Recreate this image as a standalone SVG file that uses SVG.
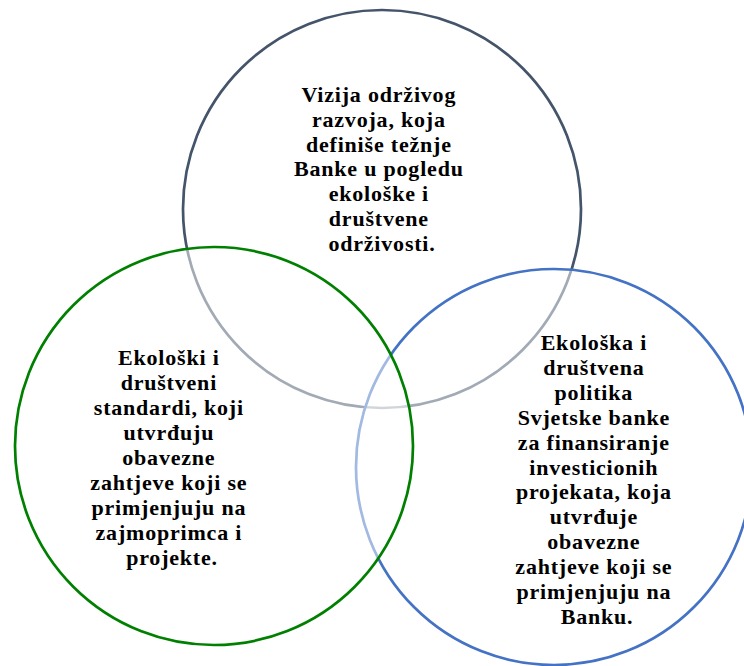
<svg xmlns="http://www.w3.org/2000/svg" width="744" height="666" viewBox="0 0 744 666">
<style>
.c{fill:#ffffff;fill-opacity:0.5;stroke-width:2.7}
.t{fill:#000;text-anchor:middle}
</style>
<rect width="744" height="666" fill="#ffffff"/>
<g id="vision">
<circle class="c" cx="382" cy="209" r="199" stroke="#44546A"/>
<text class="t" font-family="Liberation Serif, Times New Roman, serif" font-weight="bold" font-size="22" letter-spacing="0.8">
<tspan x="382" y="102">Vizija održivog</tspan>
<tspan x="382" y="126.8">razvoja, koja</tspan>
<tspan x="382" y="151.6">definiše težnje</tspan>
<tspan x="382" y="176.4">Banke u pogledu</tspan>
<tspan x="382" y="201.2">ekološke i</tspan>
<tspan x="382" y="226">društvene</tspan>
<tspan x="382" y="250.8">održivosti.</tspan>
</text>
</g>
<g id="policy">
<circle class="c" cx="554" cy="467" r="198" stroke="#4472C4"/>
<text class="t" font-family="Liberation Serif, Times New Roman, serif" font-weight="bold" font-size="22" letter-spacing="0.8">
<tspan x="597" y="350">Ekološka i</tspan>
<tspan x="597" y="374.9">društvena</tspan>
<tspan x="597" y="399.8">politika</tspan>
<tspan x="597" y="424.7">Svjetske banke</tspan>
<tspan x="597" y="449.6">za finansiranje</tspan>
<tspan x="597" y="474.5">investicionih</tspan>
<tspan x="597" y="499.4">projekata, koja</tspan>
<tspan x="597" y="524.3">utvrđuje</tspan>
<tspan x="597" y="549.2">obavezne</tspan>
<tspan x="597" y="574.1">zahtjeve koji se</tspan>
<tspan x="597" y="599">primjenjuju na</tspan>
<tspan x="597" y="624">Banku.</tspan>
</text>
</g>
<g id="standards">
<circle class="c" cx="214" cy="446" r="199" stroke="#008000"/>
<text class="t" font-family="Liberation Serif, Times New Roman, serif" font-weight="bold" font-size="22" letter-spacing="0.8">
<tspan x="172" y="365">Ekološki i</tspan>
<tspan x="172" y="390">društveni</tspan>
<tspan x="172" y="415">standardi, koji</tspan>
<tspan x="172" y="440">utvrđuju</tspan>
<tspan x="172" y="465">obavezne</tspan>
<tspan x="172" y="490">zahtjeve koji se</tspan>
<tspan x="172" y="515">primjenjuju na</tspan>
<tspan x="172" y="540">zajmoprimca i</tspan>
<tspan x="172" y="565">projekte.</tspan>
</text>
</g>
<g id="connectors"></g>
</svg>
